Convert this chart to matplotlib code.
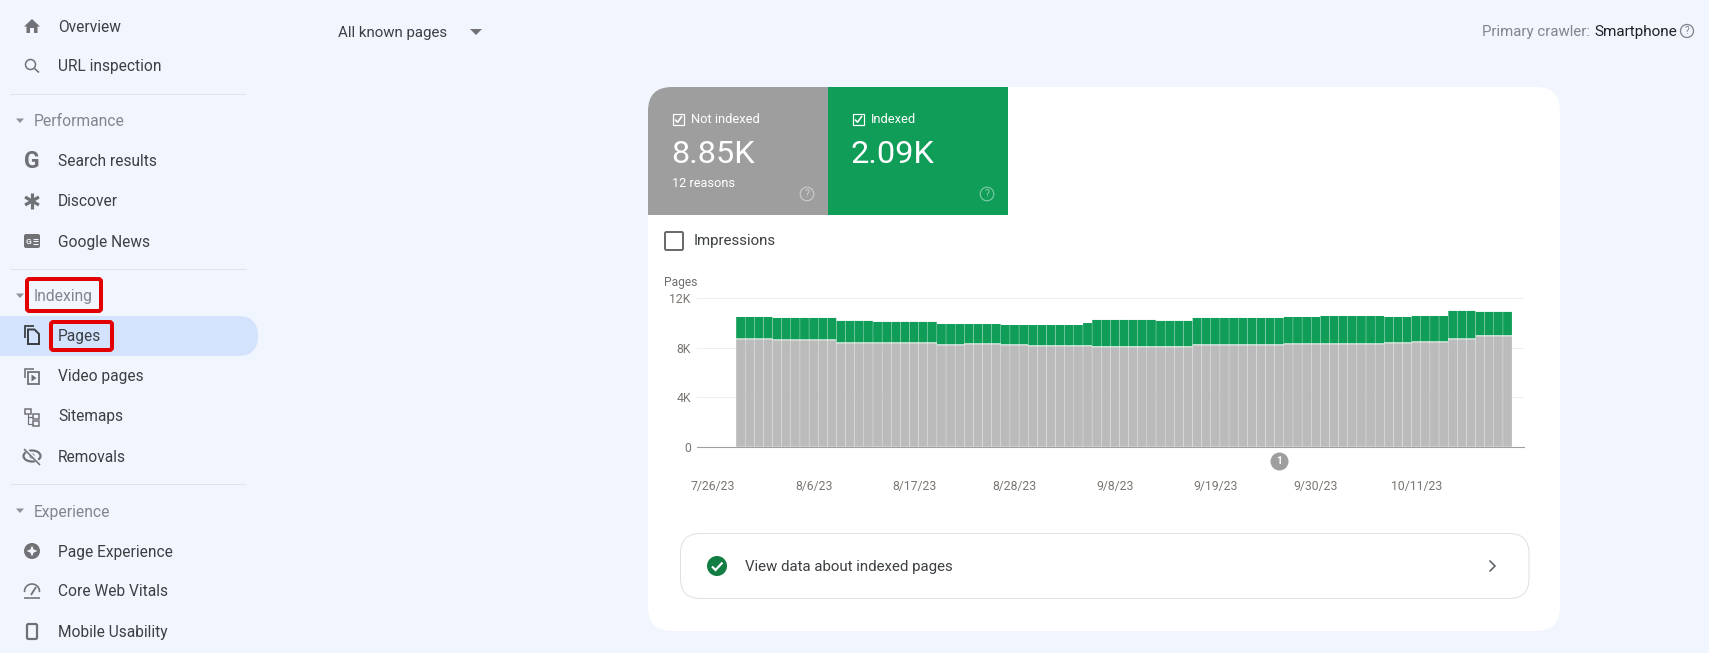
import numpy as np
import matplotlib
matplotlib.use('Agg')
import matplotlib.pyplot as plt
from matplotlib.patches import Rectangle, FancyBboxPatch, Circle, Polygon, Ellipse, Arc
from matplotlib.ticker import FuncFormatter

plt.rcParams['font.family'] = ['Roboto', 'DejaVu Sans']

# ---------- data ----------
not_indexed = [
    8680, 8680, 8680, 8680,
    8600, 8600, 8600, 8600, 8600, 8600, 8600,
    8360, 8360, 8360, 8360, 8360, 8360, 8360, 8360, 8360, 8360, 8360,
    8200, 8200, 8200,
    8280, 8280, 8280, 8280,
    8200, 8200, 8200,
    8120, 8120, 8120, 8120, 8120, 8120, 8120,
    8040, 8040, 8040, 8040, 8040, 8040, 8040, 8040, 8040, 8040, 8040,
    8200, 8200, 8200, 8200, 8200, 8200, 8200, 8200, 8200, 8200,
    8280, 8280, 8280, 8280, 8280, 8280, 8280, 8280, 8280, 8280, 8280,
    8360, 8360, 8360,
    8440, 8440, 8440, 8440,
    8680, 8680, 8680,
    8930, 8930, 8930, 8930,
]
indexed = [
    1810, 1810, 1810, 1810,
    1810, 1810, 1810, 1810, 1810, 1810, 1810,
    1810, 1810, 1810, 1810,
    1730, 1730, 1730, 1730, 1730, 1730, 1730,
    1720, 1720, 1720,
    1640, 1640, 1640, 1640,
    1640, 1640, 1640,
    1720, 1720, 1720, 1720, 1720, 1720,
    1880,
    2210, 2210, 2210, 2210, 2210, 2210, 2210,
    2130, 2130, 2130, 2130,
    2210, 2210, 2210, 2210, 2210, 2210, 2210, 2210, 2210, 2210,
    2210, 2210, 2210, 2210,
    2290, 2290, 2290, 2290, 2290, 2290, 2290,
    2130, 2130, 2130,
    2130, 2130, 2130, 2130,
    2300, 2300, 2300,
    1970, 1970, 1970, 1970,
]
date_labels = ['7/26/23', '8/6/23', '8/17/23', '8/28/23',
               '9/8/23', '9/19/23', '9/30/23', '10/11/23']
y_ticks = [0, 4000, 8000, 12000]
first_bar_day = 3      # 7/29/23, days after 7/26/23
tick_step_days = 11
annotation_day = 62    # 9/26/23

nav_items = [('Overview', 26), ('URL inspection', 66), ('Search results', 161),
             ('Discover', 201), ('Google News', 241), ('Pages', 336),
             ('Video pages', 376), ('Sitemaps', 416), ('Removals', 456),
             ('Page Experience', 551), ('Core Web Vitals', 591), ('Mobile Usability', 631)]
nav_groups = [('Performance', 121), ('Indexing', 296), ('Experience', 511)]
nav_dividers = [94, 269, 484]

# ---------- colours ----------
BG = '#f1f5fd'
GREY_TILE = '#9e9e9e'
GREEN = '#0f9d58'
BAR_GREY = '#bbbbbb'
ICON = '#6f7175'
TXT = '#3c4043'
MUTED = '#80868b'
RED = '#e30000'

W, H = 1709, 653
px = 0.72  # one pixel in points at dpi=100

fig = plt.figure(figsize=(W / 100, H / 100), dpi=100, facecolor=BG)
ui = fig.add_axes([0, 0, 1, 1], zorder=0)
ui.set_xlim(0, W)
ui.set_ylim(H, 0)
ui.axis('off')


def label(x, y, s, size, color=TXT, ha='left', va='center', **kw):
    ui.text(x, y + 1, s, fontsize=size * px, color=color, ha=ha, va=va, **kw)


def rbox(x0, y0, x1, y1, r, fc='none', ec='none', lw=0, z=2):
    p = FancyBboxPatch((x0 + r, y0 + r), x1 - x0 - 2 * r, y1 - y0 - 2 * r,
                       boxstyle=f'round,pad={r},rounding_size={r}',
                       fc=fc, ec=ec, lw=lw * px, zorder=z)
    ui.add_patch(p)
    return p


def line(xs, ys, color=ICON, lw=2, z=3, cap='butt'):
    ui.plot(xs, ys, color=color, lw=lw * px, zorder=z, solid_capstyle=cap,
            solid_joinstyle='miter')


# ---------- sidebar ----------
rbox(-40, 316, 258, 356, 20, fc='#d3e3fd', z=1)
for y in nav_dividers:
    line([10, 246], [y, y], color='#e1e3e6', lw=1, z=1)
for name, y in nav_items:
    label(58, y, name, 15.5, color=TXT)
for name, y in nav_groups:
    label(34, y, name, 15.6, color=MUTED)
    ui.add_patch(Polygon([[16, y - 2.5], [24, y - 2.5], [20, y + 2]], fc='#8f9296', ec='none', zorder=3))

# icons
ui.add_patch(Polygon([[32, 19], [40, 26.5], [37.5, 26.5], [37.5, 33], [34, 33], [34, 28],
                      [30, 28], [30, 33], [26.5, 33], [26.5, 26.5], [24, 26.5]],
                     fc=ICON, ec='none', zorder=3))
ui.add_patch(Circle((30.5, 64.5), 5, fc='none', ec=ICON, lw=1.5 * px, zorder=3))
line([34.5, 39], [68.5, 72.5], lw=1.6)
ui.text(32, 161.5, 'G', fontsize=23 * px, fontweight='bold', color=ICON, ha='center', va='center', zorder=3)
for a in [90, 30, 150]:
    dx, dy = 8 * np.cos(np.radians(a)), 8 * np.sin(np.radians(a))
    line([32 - dx, 32 + dx], [201 - dy, 201 + dy], lw=3.2)
rbox(24, 234, 40, 248, 2, fc=ICON, z=3)
ui.text(28.5, 241, 'G', fontsize=8.5 * px, fontweight='bold', color=BG, ha='center', va='center', zorder=4)
for y in [239, 241.3, 243.6]:
    line([33, 38], [y, y], color=BG, lw=1.1, z=4)
# pages
line([24.5, 24.5, 34], [338, 326, 326], color='#3c4043', lw=1.8)
ui.add_patch(Polygon([[28, 329.5], [34.5, 329.5], [39, 334], [39, 344], [28, 344]],
                     fc='none', ec='#3c4043', lw=2 * px, zorder=3))
# video pages
line([24.5, 24.5, 34], [378, 369, 369], lw=1.6)
ui.add_patch(Rectangle((28, 372), 11, 12, fc='none', ec=ICON, lw=1.8 * px, zorder=3))
ui.add_patch(Polygon([[31.5, 374.5], [36.5, 378], [31.5, 381.5]], fc=ICON, ec='none', zorder=3))
# sitemaps
for (x, y, w) in [(25, 408.5, 6), (33, 414, 6), (33, 421, 6)]:
    ui.add_patch(Rectangle((x, y), w, 5, fc='none', ec=ICON, lw=1.5 * px, zorder=3))
line([28, 28, 33], [413.5, 423.5, 423.5], lw=1.2)
line([28, 33], [416.5, 416.5], lw=1.2)
# removals
ui.add_patch(Ellipse((32, 456), 17, 11, fc='none', ec=ICON, lw=2.2 * px, zorder=3))
ui.add_patch(Circle((32, 456), 2.6, fc=ICON, ec='none', zorder=3))
line([24, 40], [448, 464], color=BG, lw=3.5, z=4)
line([24, 40], [449, 465], lw=1.6, z=5)
# page experience
ui.add_patch(Circle((32, 551), 8, fc=ICON, ec='none', zorder=3))
ui.add_patch(Polygon([[32, 545.5], [33.6, 549.4], [37.5, 551], [33.6, 552.6], [32, 556.5],
                      [30.4, 552.6], [26.5, 551], [30.4, 549.4]], fc=BG, ec='none', zorder=4))
# core web vitals
ui.add_patch(Arc((32, 591.5), 15, 15, theta1=175, theta2=365, ec=ICON, lw=1.6 * px, zorder=3))
line([24, 40], [597.5, 597.5], lw=1.6)
line([31, 36], [595, 587], lw=1.8)
# mobile
rbox(27, 624, 37, 639, 1.5, ec=ICON, lw=2.2, z=3)

# red call-out boxes
rbox(27, 279, 101, 311, 2.5, ec=RED, lw=4, z=5)
rbox(51, 322, 112, 350, 2.5, ec=RED, lw=4, z=5)

# ---------- header ----------
label(338, 32, 'All known pages', 15, color=TXT)
ui.add_patch(Polygon([[470, 29], [482, 29], [476, 35]], fc=ICON, ec='none', zorder=3))
label(1482, 31, 'Primary crawler:', 15, color=MUTED)
label(1594, 31, 'Smartphone', 15.3, color='#202124')
ui.add_patch(Circle((1687, 31), 6.5, fc='none', ec=MUTED, lw=1.3 * px, zorder=3))
ui.text(1687, 31.3, '?', fontsize=10 * px, color=MUTED, ha='center', va='center', zorder=4)

# ---------- card ----------
card = rbox(648, 87, 1560, 631, 24, fc='white', z=1)
t1 = Rectangle((648, 87), 180, 128, fc=GREY_TILE, ec='none', zorder=2)
t2 = Rectangle((828, 87), 180, 128, fc=GREEN, ec='none', zorder=2)
ui.add_patch(t1)
ui.add_patch(t2)
t1.set_clip_path(card)

tiles = [(672, 'Not indexed', '8.85K'), (852, 'Indexed', '2.09K')]
for x, name, val in tiles:
    ui.add_patch(Rectangle((x + 0.7, 113.7), 11.6, 11.6, fc='none', ec='white', lw=1.2 * px, zorder=3))
    line([x + 3, x + 5.5, x + 10], [119.5, 122.3, 116], color='white', lw=1.6, z=4)
    label(x + 19, 118.5, name, 12.9, color='white', zorder=3)
    label(x - 1, 153.5, val, 32.5, color='white', zorder=3)
    ui.add_patch(Circle((x + 135, 194), 6.8, fc='none', ec='white', lw=1.2 * px, alpha=0.45, zorder=3))
    ui.text(x + 135, 194.3, '?', fontsize=10.5 * px, color='white', alpha=0.5, ha='center', va='center', zorder=3)
label(672, 182.5, '12 reasons', 12.8, color='white', zorder=3)

rbox(665, 232, 683, 250, 1.5, ec='#6b6b6b', lw=2, z=3)
label(694, 240.5, 'Impressions', 15, color=TXT, zorder=3)
label(664, 281.5, 'Pages', 12, color='#6e6e6e', zorder=3)

# ---------- chart ----------
ax_l, ax_r, ax_t, ax_b = 696.7, 1524.0, 298.3, 446.7
ax = fig.add_axes([ax_l / W, 1 - ax_b / H, (ax_r - ax_l) / W, (ax_b - ax_t) / H], zorder=2)
ax.patch.set_visible(False)

not_indexed = np.array(not_indexed, dtype=float)
indexed = np.array(indexed, dtype=float)
days = first_bar_day + np.arange(len(not_indexed))
seam = 80  # white line between the two stacked series, about one pixel

grey_bars = ax.bar(days, not_indexed, width=0.965, color=BAR_GREY, linewidth=0, zorder=2)
green_bars = ax.bar(days, indexed - seam, bottom=not_indexed + seam, width=0.965, color=GREEN, linewidth=0, zorder=2)
for b in list(grey_bars) + list(green_bars):
    b.set_snap(False)

day_px = 9.13
ax.set_xlim((ax_l - 713.2) / day_px, (ax_r - 713.2) / day_px)
ax.set_ylim(0, 12000)
ax.set_yticks(y_ticks)
ax.yaxis.set_major_formatter(FuncFormatter(lambda v, _: '0' if v == 0 else f'{int(v / 1000)}K'))
ax.set_xticks(np.arange(len(date_labels)) * tick_step_days)
ax.set_xticklabels(date_labels)
ax.tick_params(axis='both', length=0, labelsize=12.3 * px, labelcolor='#7a7570')
ax.tick_params(axis='y', pad=4.2)
ax.tick_params(axis='x', pad=24)
ax.grid(axis='y', color='#eeeeee', lw=1 * px, zorder=0)
ax.set_axisbelow(True)
for s in ['top', 'left', 'right']:
    ax.spines[s].set_visible(False)
ax.spines['bottom'].set_color('#9e9e9e')
ax.spines['bottom'].set_linewidth(1.1 * px)
ax.spines['bottom'].set_zorder(1)

# annotation marker below the axis
ax.plot([annotation_day], [-1160], 'o', ms=18 * px, mfc='#9e9e9e', mec='none', clip_on=False, zorder=3)
ax.text(annotation_day, -1160, '1', fontsize=10 * px, fontweight='bold', color='white',
        ha='center', va='center', zorder=4, clip_on=False)

# ---------- bottom panel ----------
rbox(680.5, 533.5, 1529, 598.5, 20, fc='none', ec='#dfe0e2', lw=1, z=2)
ui.add_patch(Circle((717, 566), 10, fc='#137e43', ec='none', zorder=3))
line([712, 715.5, 722.5], [566.5, 570, 562.5], color='white', lw=2.2, z=4)
label(745, 566, 'View data about indexed pages', 15, color=TXT, zorder=3)
line([1489.5, 1495, 1489.5], [560.5, 566, 571.5], color='#5f6368', lw=1.6)

fig.savefig('out.png', dpi=100, facecolor=BG)
